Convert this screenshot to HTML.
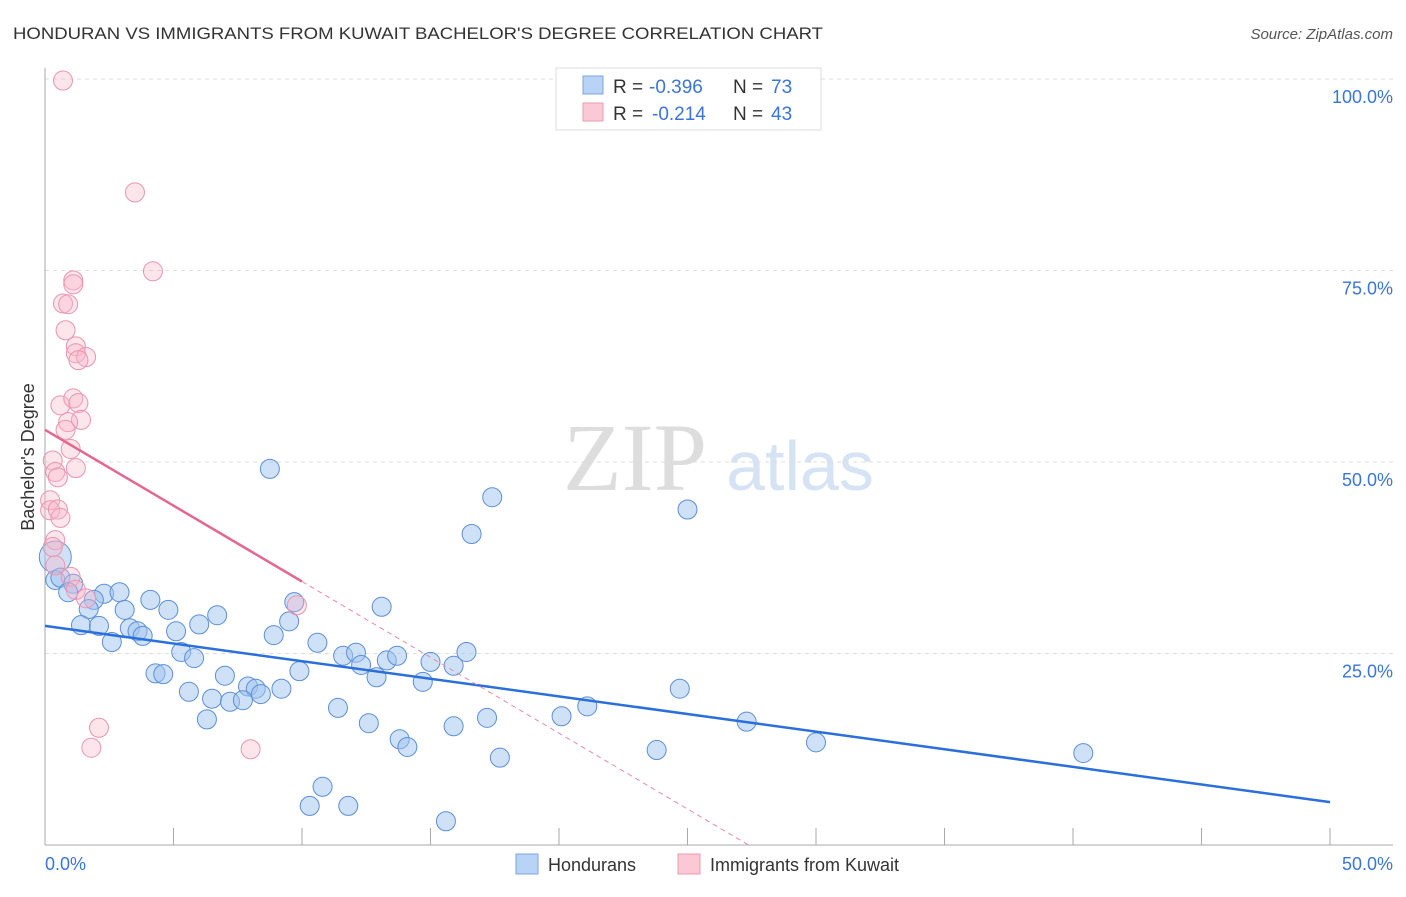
<!DOCTYPE html>
<html><head><meta charset="utf-8"><style>
body{margin:0;background:#fff;font-family:"Liberation Sans",sans-serif;}
</style></head><body>
<svg id="c" width="1406" height="892" xmlns="http://www.w3.org/2000/svg">
<text x="13" y="39" font-size="17" fill="#333" textLength="810" lengthAdjust="spacingAndGlyphs">HONDURAN VS IMMIGRANTS FROM KUWAIT BACHELOR'S DEGREE CORRELATION CHART</text>
<text x="1393" y="39" font-size="15" fill="#555" font-style="italic" text-anchor="end">Source: ZipAtlas.com</text>
<text x="635" y="490" font-size="96" fill="#ddd" font-family="Liberation Serif" text-anchor="middle">ZIP</text>
<text x="800" y="490" font-size="70" fill="#d6e3f5" text-anchor="middle">atlas</text>
<g id="grid"></g>
<g id="axes"></g>
<g id="pts"></g>
<g id="lines"></g>
<text x="34" y="457" font-size="18" fill="#333" text-anchor="middle" transform="rotate(-90 34 457)">Bachelor's Degree</text>
<text x="45" y="870" font-size="18" fill="#3a75d8">0.0%</text>
<text x="1393" y="870" font-size="18" fill="#3a75d8" text-anchor="end">50.0%</text>
<g>
<rect x="556" y="68" width="265" height="62" fill="#fff" stroke="#ddd"/>
<rect x="583" y="76" width="20" height="18" fill="#b8d3f5" stroke="#7aa5e0"/>
<rect x="583" y="103" width="20" height="18" fill="#fbc8d6" stroke="#eb9ab2"/>
<text x="613" y="93" font-size="19" fill="#333">R =</text>
<text x="649" y="93" font-size="19" fill="#3a75d8">-0.396</text>
<text x="733" y="93" font-size="19" fill="#333">N =</text>
<text x="771" y="93" font-size="19" fill="#3a75d8">73</text>
<text x="613" y="120" font-size="19" fill="#333">R =</text>
<text x="652" y="120" font-size="19" fill="#3a75d8">-0.214</text>
<text x="733" y="120" font-size="19" fill="#333">N =</text>
<text x="771" y="120" font-size="19" fill="#3a75d8">43</text>
</g>
<g>
<rect x="516" y="854" width="22" height="20" fill="#b8d3f5" stroke="#7aa5e0"/>
<text x="548" y="871" font-size="18" fill="#333">Hondurans</text>
<rect x="678" y="854" width="22" height="20" fill="#fbc8d6" stroke="#eb9ab2"/>
<text x="710" y="871" font-size="18" fill="#333">Immigrants from Kuwait</text>
</g>
</svg>
<script>
const yTicks=[25,50,75,100];
const yTickLabels=["25.0%","50.0%","75.0%","100.0%"];
const xTicks=[0,5,10,15,20,25,30,35,40,45,50];
const blueX=[8.75,17.4,25.0,16.6,0.4,0.4,0.6,1.1,0.9,2.3,2.9,1.9,4.1,1.7,3.1,4.8,6.7,9.7,13.1,1.4,2.1,3.3,3.6,3.8,2.6,5.1,6.0,9.5,8.9,10.6,5.3,5.8,11.6,12.1,12.3,13.3,13.7,12.9,15.0,15.9,16.4,14.7,4.3,4.6,7.0,9.9,7.9,8.2,8.4,9.2,5.6,6.5,7.2,7.7,6.3,11.4,12.6,15.9,17.2,20.1,21.1,24.7,27.3,30.0,23.8,13.8,14.1,17.7,40.4,10.8,10.3,11.8,15.6];
const blueY=[49.1,45.4,43.8,40.6,37.6,34.6,34.9,34.1,33.0,32.8,33.0,32.0,32.0,30.8,30.7,30.7,30.0,31.7,31.1,28.7,28.6,28.3,27.9,27.3,26.5,27.9,28.8,29.2,27.4,26.4,25.2,24.4,24.7,25.1,23.5,24.1,24.7,21.9,23.9,23.4,25.2,21.3,22.4,22.3,22.1,22.7,20.7,20.4,19.7,20.4,20.0,19.1,18.7,18.9,16.4,17.9,15.9,15.5,16.6,16.8,18.1,20.4,16.1,13.4,12.4,13.8,12.8,11.4,12.0,7.6,5.1,5.1,3.1];
const pinkX=[0.7,3.5,4.2,1.1,1.1,0.7,0.9,0.8,1.2,1.2,1.6,1.3,0.6,1.1,1.3,1.4,0.9,0.8,1.0,0.3,0.4,1.2,0.5,0.2,0.2,0.5,0.6,0.4,0.3,0.4,1.0,1.2,1.6,9.8,2.1,1.8,8.0];
const pinkY=[99.8,85.2,74.9,73.7,73.2,70.7,70.6,67.2,65.1,64.2,63.7,63.3,57.4,58.3,57.7,55.5,55.2,54.2,51.7,50.2,48.7,49.2,48.0,45.0,43.7,43.8,42.7,39.8,38.9,36.5,35.0,33.3,32.2,31.3,15.3,12.7,12.5];
const blueTrend=[28.6,5.6];
const pinkTrend=[54.2,34.4];
const NS="http://www.w3.org/2000/svg";
const sx=v=>45+v/50*1285, sy=v=>845-v/100*766;
function mk(t,a,p){const e=document.createElementNS(NS,t);for(const k in a)e.setAttribute(k,a[k]);p.appendChild(e);return e;}
const grid=document.getElementById('grid'),axes=document.getElementById('axes'),pts=document.getElementById('pts'),lines=document.getElementById('lines');
yTicks.forEach((v,i)=>{
 const l=mk('line',{x1:45,x2:1393,y1:sy(v),y2:sy(v),stroke:'#ddd','stroke-dasharray':'4,4'},grid);
 
 
 const t=mk('text',{x:1393,y:sy(v)+24,'font-size':18,fill:'#3a75d8','text-anchor':'end'},grid);
 t.textContent=yTickLabels[i];
 
 
});
const ya=mk('line',{x1:45,x2:45,y1:68,y2:845,stroke:'#aaa'},axes);


const xa=mk('line',{x1:45,x2:1393,y1:845,y2:845,stroke:'#aaa'},axes);


xTicks.forEach(v=>{
 const t=mk('line',{x1:sx(v),x2:sx(v),y1:828,y2:845,stroke:'#aaa'},axes);
 
 
});
blueX.forEach((x,i)=>{
 const c=mk('circle',{cx:sx(x),cy:sy(blueY[i]),r:i==4?16:9.5,fill:'rgba(160,196,240,0.5)',stroke:'#5b8fd9','stroke-width':1},pts);
 
 
});
pinkX.forEach((x,i)=>{
 const c=mk('circle',{cx:sx(x),cy:sy(pinkY[i]),r:9.5,fill:'rgba(248,180,200,0.35)',stroke:'#eb95af','stroke-width':1},pts);
 
 
});
const bl=mk('line',{x1:sx(0),y1:sy(blueTrend[0]),x2:sx(50),y2:sy(blueTrend[1]),stroke:'#2a6fdb','stroke-width':2.5},lines);


const slope=(pinkTrend[1]-pinkTrend[0])/10;
const pl=mk('line',{x1:sx(0),y1:sy(pinkTrend[0]),x2:sx(10),y2:sy(pinkTrend[1]),stroke:'#e3678f','stroke-width':2.5},lines);


const xe=-pinkTrend[0]/slope;
const pd=mk('line',{x1:sx(10),y1:sy(pinkTrend[1]),x2:sx(xe),y2:sy(0),stroke:'#e88aa6','stroke-width':1,'stroke-dasharray':'5,4'},lines);


</script>
</body></html>
